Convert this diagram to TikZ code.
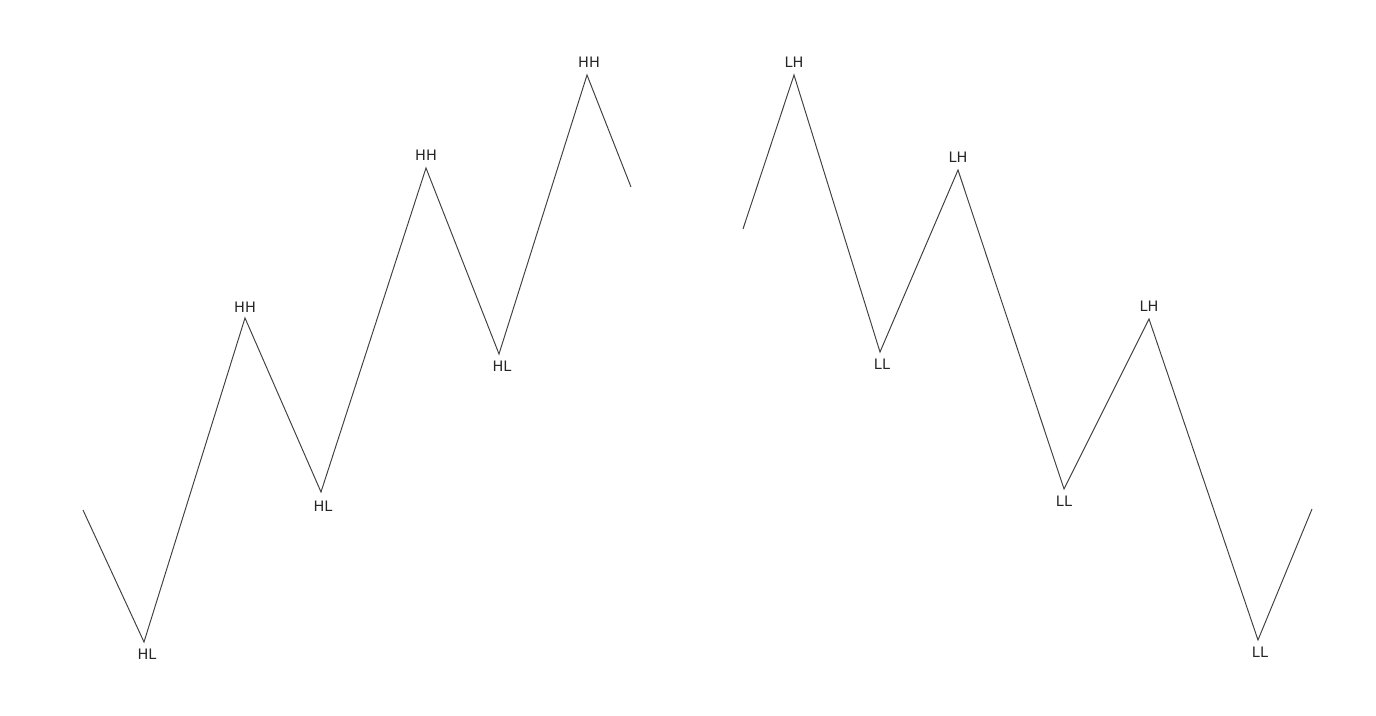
\documentclass[tikz,border=0pt]{standalone}
\usepackage{fontspec}
\setmainfont{DejaVu Sans}
\usetikzlibrary{positioning}

\begin{document}
\begin{tikzpicture}[
        x=0.02cm, y=-0.02cm,
        every node/.style={font=\fontsize{8.2}{9.5}\selectfont, text=black!85},
        swing/.style={draw=black!75, line width=0.55pt, line join=miter},
        lowlab/.style={inner sep=0pt, below=0.13cm of #1},
        highlab/.style={inner sep=0pt, above=0.15cm of #1}
    ]
        \useasboundingbox (0,0) rectangle (1376,716);

        % Uptrend - left
        \coordinate (ua) at (83,510);
        \coordinate (ul1) at (144,642);
        \coordinate (uh1) at (245,318);
        \coordinate (ul2) at (321,492);
        \coordinate (uh2) at (426,168);
        \coordinate (ul3) at (499,354);
        \coordinate (uh3) at (587,75);
        \coordinate (ub) at (631,187);

        % Downtrend - right
        \coordinate (da) at (743,229);
        \coordinate (dh1) at (794,75);
        \coordinate (dl1) at (880,352);
        \coordinate (dh2) at (958,170);
        \coordinate (dl2) at (1064,489);
        \coordinate (dh3) at (1149,319);
        \coordinate (dl3) at (1258,640);
        \coordinate (db) at (1312,509);

        % Swings
        \draw[swing] (ua) -- (ul1) -- (uh1) -- (ul2) -- (uh2) -- (ul3) -- (uh3) -- (ub);
        \draw[swing] (da) -- (dh1) -- (dl1) -- (dh2) -- (dl2) -- (dh3) -- (dl3) -- (db);

        % Labels
        \node[lowlab=ul1, xshift=3*0.02cm] (ul1t) {HL};
        \node[highlab=uh1, yshift=-2*0.02cm] (uh1t) {HH};
        \node[lowlab=ul2, xshift=2*0.02cm, yshift=-2*0.02cm] (ul2t) {HL};
        \node[highlab=uh2] (uh2t) {HH};
        \node[lowlab=ul3, xshift=3*0.02cm] (ul3t) {HL};
        \node[highlab=uh3, xshift=2*0.02cm] (uh3t) {HH};

        \node[highlab=dh1] (dh1t) {LH};
        \node[lowlab=dl1, xshift=2*0.02cm] (dl1t) {LL};
        \node[highlab=dh2] (dh2t) {LH};
        \node[lowlab=dl2] (dl2t) {LL};
        \node[highlab=dh3] (dh3t) {LH};
        \node[lowlab=dl3, xshift=2*0.02cm] (dl3t) {LL};
    \end{tikzpicture}
\end{document}
